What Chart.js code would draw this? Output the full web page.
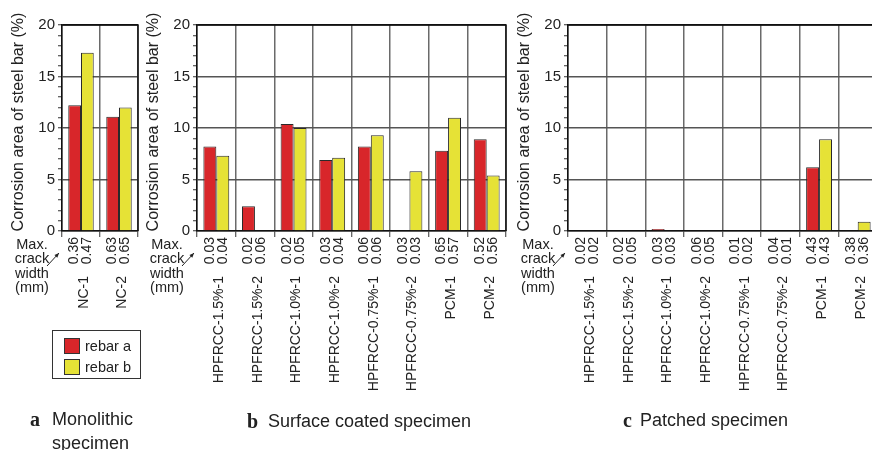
<!DOCTYPE html>
<html>
<head>
<meta charset="utf-8">
<script src="https://cdn.jsdelivr.net/npm/chart.js@4/dist/chart.umd.min.js"></script>
<style>
  html, body { margin: 0; padding: 0; width: 872px; height: 450px; overflow: hidden; background: #fff; }
  body { position: relative; font-family: "Liberation Sans", Arial, sans-serif; color: #222; }
  canvas { position: absolute; top: 0; }
  #cvA { left: 0; }
  #cvB { left: 140px; }
  #cvC { left: 510px; }
  .legend { position: absolute; left: 52px; top: 330px; width: 87px; height: 47px; border: 1px solid #333; font-size: 14.5px; }
  .legend div { position: absolute; left: 32px; height: 16px; line-height: 16px; }
  .legend span { position: absolute; left: -21px; top: 0; width: 14px; height: 14px; border: 1px solid #333; }
  .cap { position: absolute; font-size: 18px; line-height: 24px; white-space: nowrap; }
  .cap b { position: absolute; font-family: "Liberation Serif", "Times New Roman", serif; font-size: 20px; }
</style>
</head>
<body>
<canvas id="cvA" width="145" height="450"></canvas>
<canvas id="cvB" width="370" height="450"></canvas>
<canvas id="cvC" width="372" height="450"></canvas>

<div class="legend">
  <div style="top:7px"><span style="background:#d8262a"></span>rebar a</div>
  <div style="top:28px"><span style="background:#e6e236"></span>rebar b</div>
</div>

<div class="cap" style="left:30px; top:407px;"><b style="left:0">a</b><span style="position:absolute; left:22px">Monolithic<br>specimen</span></div>
<div class="cap" style="left:247px; top:409px;"><b style="left:0">b</b><span style="position:absolute; left:21px">Surface coated specimen</span></div>
<div class="cap" style="left:623px; top:408px;"><b style="left:0">c</b><span style="position:absolute; left:17px">Patched specimen</span></div>

<script>
// corrosion area (%) and max crack width (mm) per specimen
const monoNames = ['NC-1', 'NC-2'];
const monoRebarA = [12.2, 11.1];
const monoRebarB = [17.3, 12.0];
const monoCrackA = ['0.36', '0.63'];
const monoCrackB = ['0.47', '0.65'];

const specNames = ['HPFRCC-1.5%-1', 'HPFRCC-1.5%-2', 'HPFRCC-1.0%-1', 'HPFRCC-1.0%-2',
  'HPFRCC-0.75%-1', 'HPFRCC-0.75%-2', 'PCM-1', 'PCM-2'];

const coatRebarA = [8.2, 2.4, 10.4, 6.9, 8.2, 0, 7.8, 8.9];
const coatRebarB = [7.3, 0, 10.0, 7.1, 9.3, 5.8, 11.0, 5.4];
const coatCrackA = ['0.03', '0.02', '0.02', '0.03', '0.06', '0.03', '0.65', '0.52'];
const coatCrackB = ['0.04', '0.06', '0.05', '0.04', '0.06', '0.03', '0.57', '0.56'];

const patchRebarA = [0, 0, 0.2, 0, 0, 0, 6.2, 0];
const patchRebarB = [0, 0, 0, 0, 0, 0, 8.9, 0.9];
const patchCrackA = ['0.02', '0.02', '0.03', '0.06', '0.01', '0.04', '0.43', '0.38'];
const patchCrackB = ['0.02', '0.05', '0.03', '0.05', '0.02', '0.01', '0.43', '0.36'];

const yTicks = [0, 5, 10, 15, 20];

const RED = '#d8262a';
const YELLOW = '#e6e236';
const EDGE = '#2a2a2a';
const FONT = '"Liberation Sans", Arial, sans-serif';

Chart.defaults.font.family = FONT;
Chart.defaults.color = '#222';

// crack widths, specimen names, y title and frame
const panelExtras = {
  id: 'panelExtras',
  afterDraw(chart, args, opts) {
    const ctx = chart.ctx;
    const ca = chart.chartArea;
    ctx.save();

    ctx.strokeStyle = '#111';
    ctx.lineWidth = 1.5;
    ctx.beginPath();
    ctx.moveTo(ca.left, ca.top);
    ctx.lineTo(ca.right, ca.top);
    ctx.lineTo(ca.right, ca.bottom);
    ctx.stroke();

    ctx.fillStyle = '#222';
    ctx.font = '14px ' + FONT;
    ctx.textAlign = 'right';
    ctx.textBaseline = 'middle';
    [opts.crackA, opts.crackB].forEach(function (arr, di) {
      chart.getDatasetMeta(di).data.forEach(function (bar, i) {
        ctx.save();
        ctx.translate(bar.x, ca.bottom + 6);
        ctx.rotate(-Math.PI / 2);
        ctx.fillText(arr[i], 0, 0);
        ctx.restore();
      });
    });

    chart.data.labels.forEach(function (name, i) {
      const x = chart.scales.x.getPixelForValue(i) + 3;
      ctx.save();
      ctx.translate(x, ca.bottom + 45);
      ctx.rotate(-Math.PI / 2);
      ctx.fillText(name, 0, 0);
      ctx.restore();
    });

    // y axis title
    ctx.save();
    ctx.font = '16px ' + FONT;
    ctx.textAlign = 'center';
    ctx.translate(ca.left - 43, 122);
    ctx.rotate(-Math.PI / 2);
    ctx.fillText('Corrosion area of steel bar (%)', 0, 0);
    ctx.restore();

    // "Max. crack width (mm)" note with arrow
    ctx.font = '14.5px ' + FONT;
    ctx.textAlign = 'center';
    const cx = ca.left - 30;
    ['Max.', 'crack', 'width', '(mm)'].forEach(function (t, k) {
      ctx.fillText(t, cx, 245 + k * 14.4);
    });
    const x0 = ca.left - 15, y0 = 266, x1 = ca.left - 3, y1 = 253;
    ctx.strokeStyle = '#222';
    ctx.lineWidth = 1;
    ctx.beginPath();
    ctx.moveTo(x0, y0);
    ctx.lineTo(x1, y1);
    ctx.stroke();
    const ang = Math.atan2(y1 - y0, x1 - x0);
    ctx.beginPath();
    ctx.moveTo(x1, y1);
    ctx.lineTo(x1 - 5 * Math.cos(ang - 0.4), y1 - 5 * Math.sin(ang - 0.4));
    ctx.lineTo(x1 - 5 * Math.cos(ang + 0.4), y1 - 5 * Math.sin(ang + 0.4));
    ctx.closePath();
    ctx.fill();

    ctx.restore();
  }
};

function makePanel(id, names, rebarA, rebarB, crackA, crackB, axisW, padRight) {
  return new Chart(document.getElementById(id), {
    type: 'bar',
    data: {
      labels: names,
      datasets: [
        { label: 'rebar a', data: rebarA, backgroundColor: RED, borderColor: EDGE, borderWidth: 1 },
        { label: 'rebar b', data: rebarB, backgroundColor: YELLOW, borderColor: EDGE, borderWidth: 1 }
      ]
    },
    plugins: [panelExtras],
    options: {
      responsive: false,
      animation: false,
      layout: { padding: { top: 25, right: padRight, bottom: 0, left: 0 } },
      datasets: { bar: { categoryPercentage: 0.67, barPercentage: 1 } },
      plugins: {
        legend: { display: false },
        tooltip: { enabled: false },
        panelExtras: { crackA: crackA, crackB: crackB }
      },
      scales: {
        x: {
          ticks: { display: false },
          grid: {
            offset: true,
            color: function (c) { return c.index === names.length ? '#111' : '#6a6a6a'; },
            lineWidth: 1.5,
            tickLength: 6,
            tickColor: '#333',
            tickWidth: 1
          },
          border: { color: '#111', width: 1.5 },
          afterFit: function (s) { s.height = 219; }
        },
        y: {
          min: 0,
          max: 20,
          ticks: {
            stepSize: 1,
            autoSkip: false,
            padding: 3,
            font: { size: 15 },
            color: '#222',
            callback: function (v) { return yTicks.indexOf(v) >= 0 ? v : ''; }
          },
          grid: {
            color: function (c) {
              const v = c.tick.value;
              if (v === 20) return '#111';
              if (v % 5 === 0) return '#555';
              return 'rgba(0,0,0,0)';
            },
            lineWidth: 1.5,
            tickLength: 4,
            tickColor: '#333',
            tickWidth: 1
          },
          border: { color: '#111', width: 1.5 },
          afterFit: function (s) { s.width = axisW; }
        }
      }
    }
  });
}

makePanel('cvA', monoNames, monoRebarA, monoRebarB, monoCrackA, monoCrackB, 62, 7);
makePanel('cvB', specNames, coatRebarA, coatRebarB, coatCrackA, coatCrackB, 57, 4);
makePanel('cvC', specNames, patchRebarA, patchRebarB, patchCrackA, patchCrackB, 58, 5);
</script>
</body>
</html>
